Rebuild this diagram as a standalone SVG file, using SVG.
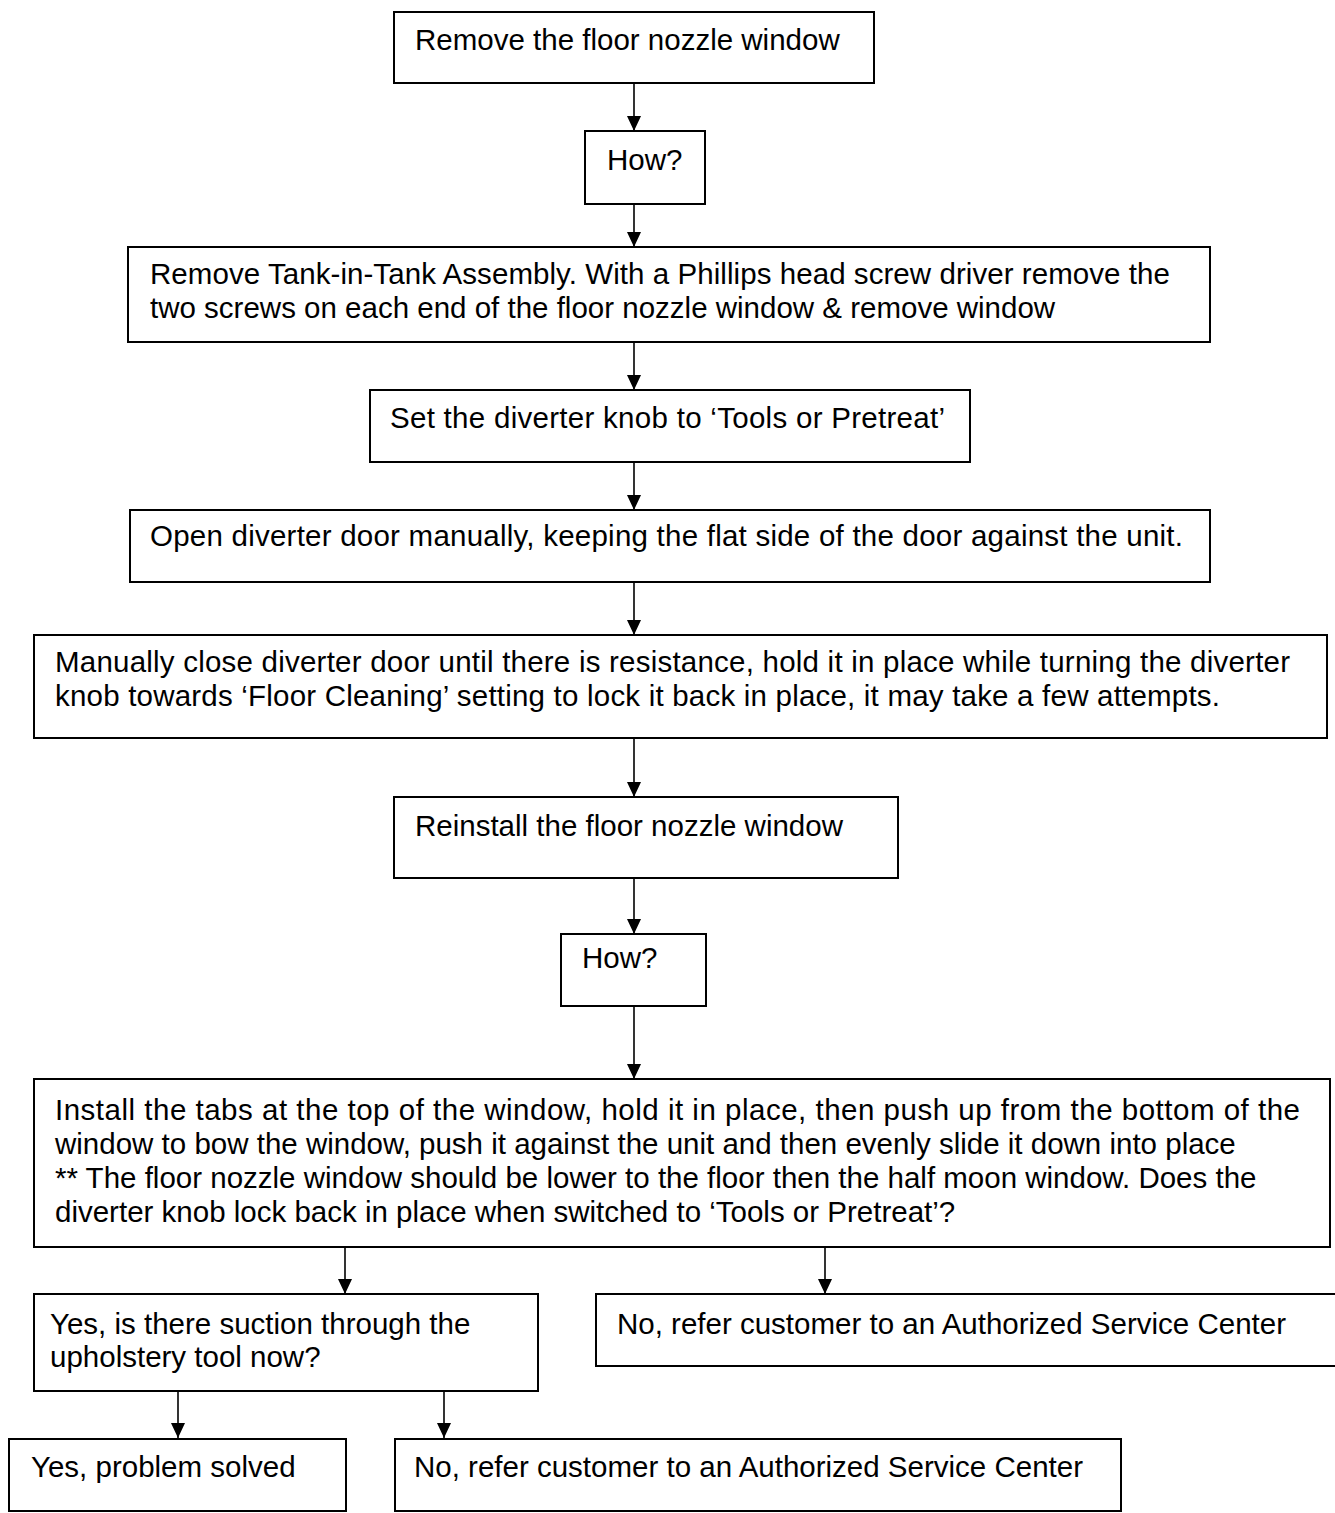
<svg xmlns="http://www.w3.org/2000/svg" width="1335" height="1513" viewBox="0 0 1335 1513">
<style>
.box{fill:#fff;stroke:#000;stroke-width:2}
.t{font-family:"Liberation Sans",Arial,sans-serif;font-size:29.5px;fill:#000}
.c{stroke:#000;stroke-width:1.6;fill:none}
</style>
<defs>
<marker id="ah" markerUnits="userSpaceOnUse" markerWidth="15" markerHeight="14" refX="15" refY="7" orient="auto">
<path d="M0,0 L15,7 L0,14 Z" fill="#000"/>
</marker>
</defs>
<rect width="1335" height="1513" fill="#fff"/>
<g id="connectors">
<line class="c" x1="634" y1="83" x2="634" y2="131" marker-end="url(#ah)"/>
<line class="c" x1="634" y1="204" x2="634" y2="247" marker-end="url(#ah)"/>
<line class="c" x1="634" y1="342" x2="634" y2="390" marker-end="url(#ah)"/>
<line class="c" x1="634" y1="462" x2="634" y2="510" marker-end="url(#ah)"/>
<line class="c" x1="634" y1="582" x2="634" y2="635" marker-end="url(#ah)"/>
<line class="c" x1="634" y1="738" x2="634" y2="797" marker-end="url(#ah)"/>
<line class="c" x1="634" y1="878" x2="634" y2="934" marker-end="url(#ah)"/>
<line class="c" x1="634" y1="1006" x2="634" y2="1079" marker-end="url(#ah)"/>
<line class="c" x1="345" y1="1247" x2="345" y2="1294" marker-end="url(#ah)"/>
<line class="c" x1="825" y1="1247" x2="825" y2="1294" marker-end="url(#ah)"/>
<line class="c" x1="178" y1="1391" x2="178" y2="1438" marker-end="url(#ah)"/>
<line class="c" x1="444" y1="1391" x2="444" y2="1438" marker-end="url(#ah)"/>
</g>
<g id="n1"><rect class="box" x="394" y="12" width="480" height="71"/>
<text class="t" x="415" y="50">Remove the floor nozzle window</text></g>
<g id="n2"><rect class="box" x="585" y="131" width="120" height="73"/>
<text class="t" x="607" y="170">How?</text></g>
<g id="n3"><rect class="box" x="128" y="247" width="1082" height="95"/>
<text class="t" x="150" y="284" textLength="1020" lengthAdjust="spacing">Remove Tank-in-Tank Assembly. With a Phillips head screw driver remove the</text>
<text class="t" x="150" y="318">two screws on each end of the floor nozzle window &amp; remove window</text></g>
<g id="n4"><rect class="box" x="370" y="390" width="600" height="72"/>
<text class="t" x="390" y="428" textLength="555" lengthAdjust="spacing">Set the diverter knob to ‘Tools or Pretreat’</text></g>
<g id="n5"><rect class="box" x="130" y="510" width="1080" height="72"/>
<text class="t" x="150" y="546" textLength="1033" lengthAdjust="spacing">Open diverter door manually, keeping the flat side of the door against the unit.</text></g>
<g id="n6"><rect class="box" x="34" y="635" width="1293" height="103"/>
<text class="t" x="55" y="672" textLength="1235" lengthAdjust="spacing">Manually close diverter door until there is resistance, hold it in place while turning the diverter</text>
<text class="t" x="55" y="706" textLength="1165" lengthAdjust="spacing">knob towards ‘Floor Cleaning’ setting to lock it back in place, it may take a few attempts.</text></g>
<g id="n7"><rect class="box" x="394" y="797" width="504" height="81"/>
<text class="t" x="415" y="836">Reinstall the floor nozzle window</text></g>
<g id="n8"><rect class="box" x="561" y="934" width="145" height="72"/>
<text class="t" x="582" y="968">How?</text></g>
<g id="n9"><rect class="box" x="34" y="1079" width="1296" height="168"/>
<text class="t" x="55" y="1120" textLength="1245" lengthAdjust="spacing">Install the tabs at the top of the window, hold it in place, then push up from the bottom of the</text>
<text class="t" x="55" y="1154">window to bow the window, push it against the unit and then evenly slide it down into place</text>
<text class="t" x="55" y="1188">** The floor nozzle window should be lower to the floor then the half moon window. Does the</text>
<text class="t" x="55" y="1222">diverter knob lock back in place when switched to ‘Tools or Pretreat’?</text></g>
<g id="n10"><rect class="box" x="34" y="1294" width="504" height="97"/>
<text class="t" x="50" y="1334">Yes, is there suction through the</text>
<text class="t" x="50" y="1367">upholstery tool now?</text></g>
<g id="n11"><rect class="box" x="596" y="1294" width="745" height="72"/>
<text class="t" x="617" y="1334">No, refer customer to an Authorized Service Center</text></g>
<g id="n12"><rect class="box" x="9" y="1439" width="337" height="72"/>
<text class="t" x="31" y="1477">Yes, problem solved</text></g>
<g id="n13"><rect class="box" x="395" y="1439" width="726" height="72"/>
<text class="t" x="414" y="1477">No, refer customer to an Authorized Service Center</text></g>
</svg>
